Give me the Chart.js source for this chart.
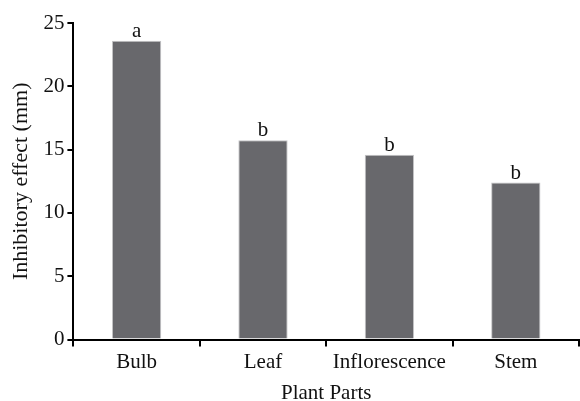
<!DOCTYPE html>
<html>
<head>
<meta charset="utf-8">
<script src="https://cdn.jsdelivr.net/npm/chart.js@4"></script>
<style>
	html, body { margin: 0; padding: 0; background: #fff; }
	#wrap { width: 580px; height: 401px; }
</style>
</head>
<body>
<div id="wrap"><canvas id="chart"></canvas></div>
<script>
const categories = ["Bulb", "Leaf", "Inflorescence", "Stem"];
const effectValues = [23.6, 15.75, 14.6, 12.4];
const letters = ["a", "b", "b", "b"];
const yTicks = [0, 5, 10, 15, 20, 25];

const serif = "'Liberation Serif', 'Times New Roman', serif";

// draws the significance letters over each bar
const letterPlugin = {
	id: "letters",
	afterDatasetsDraw(chart) {
		const ctx = chart.ctx;
		const meta = chart.getDatasetMeta(0);
		ctx.save();
		ctx.font = "21px " + serif;
		ctx.fillStyle = "#111";
		ctx.textAlign = "center";
		ctx.textBaseline = "bottom";
		meta.data.forEach((bar, i) => {
			ctx.fillText(letters[i], bar.x, bar.y + 1);
		});
		ctx.restore();
	}
};

new Chart(document.getElementById("chart"), {
	type: "bar",
	data: {
		labels: categories,
		datasets: [{
			data: effectValues,
			backgroundColor: "#68686c",
			borderColor: "#c4c4c6",
			borderWidth: 1,
			categoryPercentage: 1,
			barPercentage: 0.39
		}]
	},
	options: {
		responsive: true,
		maintainAspectRatio: false,
		animation: false,
		layout: { padding: { top: 23, right: 1, left: 8, bottom: -5 } },
		plugins: {
			legend: { display: false },
			tooltip: { enabled: false }
		},
		scales: {
			x: {
				grid: {
					offset: true,
					drawOnChartArea: false,
					color: "#000",
					lineWidth: 2,
					tickLength: 7
				},
				border: { color: "#000", width: 2 },
				ticks: {
					color: "#111",
					font: { family: serif, size: 21 },
					padding: 3,
					maxRotation: 0
				},
				title: {
					display: true,
					text: "Plant Parts",
					color: "#111",
					font: { family: serif, size: 21 },
					padding: { top: 3, bottom: 0 }
				}
			},
			y: {
				min: 0,
				max: 25,
				afterBuildTicks(axis) {
					axis.ticks = yTicks.map(v => ({ value: v }));
				},
				grid: {
					drawOnChartArea: false,
					color: "#000",
					lineWidth: 2,
					tickLength: 6
				},
				border: { color: "#000", width: 2 },
				ticks: {
					color: "#111",
					font: { family: serif, size: 21 },
					padding: 3
				},
				title: {
					display: true,
					text: "Inhibitory effect (mm)",
					color: "#111",
					font: { family: serif, size: 22 },
					padding: { top: 0, bottom: 6 }
				}
			}
		}
	},
	plugins: [letterPlugin]
});
</script>
</body>
</html>
